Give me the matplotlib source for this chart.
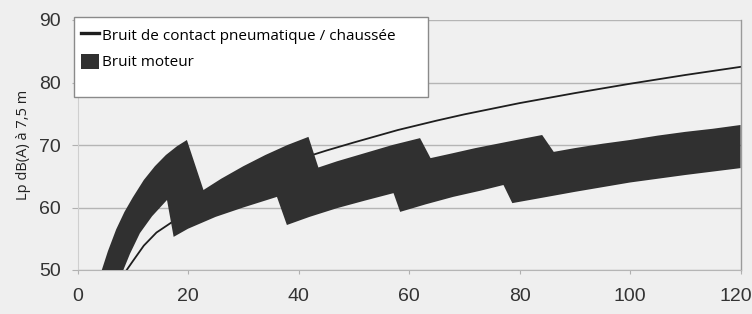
import matplotlib
matplotlib.use("Agg")
import matplotlib.pyplot as plt
from matplotlib.patches import Rectangle, Patch
from matplotlib.lines import Line2D
import matplotlib.transforms as mtrans

# ---------------- data ----------------
x_ticks = [0, 20, 40, 60, 80, 100, 120]
y_ticks = [50, 60, 70, 80, 90]
y_label = "Lp dB(A) à 7,5 m"
legend_labels = ["Bruit de contact pneumatique / chaussée", "Bruit moteur"]

# rolling (tyre/road) noise curve
rolling_speed = [8.9, 10, 12, 14.3, 17, 20, 25, 30, 35, 40, 45, 50, 58, 65, 70,
                 80, 90, 100, 110, 120]
rolling_level = [50, 51.4, 53.9, 56.0, 57.6, 59.4, 62.0, 64.2, 66.1, 67.7, 69.1,
                 70.4, 72.4, 73.9, 74.9, 76.7, 78.3, 79.8, 81.2, 82.5]

# engine noise band: upper outline (left -> right)
engine_upper_speed = [4.4, 5.5, 7, 8.5, 10, 12, 14, 16, 18, 19.8,
                      22.8, 26, 30, 34, 38, 41.8,
                      43.6, 47, 52, 57, 62.0,
                      63.9, 68, 72, 76, 80, 84.1,
                      86.2, 90, 95, 100, 105, 110, 115, 120]
engine_upper_level = [50, 53, 56.5, 59.3, 61.6, 64.4, 66.6, 68.4, 69.8, 70.8,
                      62.8, 64.6, 66.6, 68.4, 70.0, 71.3,
                      66.4, 67.4, 68.7, 70.0, 71.1,
                      67.9, 68.7, 69.5, 70.2, 70.9, 71.6,
                      68.9, 69.5, 70.2, 70.8, 71.5, 72.1, 72.6, 73.2]

# engine noise band: lower outline (left -> right)
engine_lower_speed = [8.3, 9.5, 11.3, 13.5, 16.2,
                      17.4, 20, 25, 30, 36.1,
                      37.9, 42, 47, 52, 57.2,
                      58.4, 63, 68, 73, 77.1,
                      78.7, 85, 90, 100, 110, 120]
engine_lower_level = [50, 52.6, 55.9, 58.6, 61.2,
                      55.3, 56.6, 58.5, 60.0, 61.7,
                      57.2, 58.5, 59.9, 61.1, 62.3,
                      59.3, 60.5, 61.7, 62.7, 63.6,
                      60.7, 61.7, 62.5, 64.0, 65.2, 66.3]

# ---------------- figure ----------------
W, H = 752, 314
fig = plt.figure(figsize=(W / 100, H / 100), dpi=100)
fig.patch.set_facecolor("#efefef")

ax_l, ax_r, ax_t, ax_b = 77.5, 740.5, 20, 270
ax = fig.add_axes([ax_l / W, 1 - ax_b / H, (ax_r - ax_l) / W, (ax_b - ax_t) / H])
ax.set_facecolor("#f0f0f0")
ax.set_xlim(0, 120)
ax.set_ylim(50, 90)

poly_x = engine_upper_speed + engine_lower_speed[::-1]
poly_y = engine_upper_level + engine_lower_level[::-1]
ax.fill(poly_x, poly_y, color="#303030", lw=0, zorder=3)
ax.plot(rolling_speed, rolling_level, color="#1e1e1e", lw=1.3, zorder=2)

ax.set_yticks(y_ticks)
ax.set_xticks(x_ticks)
ax.yaxis.grid(True, color="#b5b5b5", lw=1)
ax.set_axisbelow(True)
ax.spines["top"].set_visible(False)
ax.spines["left"].set_color("#cfcfcf")
ax.spines["bottom"].set_color("#b5b5b5")
ax.spines["right"].set_color("#9a9a9a")
ax.spines["right"].set_linewidth(1)

ax.tick_params(axis="x", length=3, color="#b0b0b0", pad=10, labelsize=14,
               labelcolor="#333333")
ax.tick_params(axis="y", length=4, color="#b0b0b0", pad=8, labelsize=14,
               labelcolor="#333333")
for lab in ax.get_xticklabels() + ax.get_yticklabels():
    lab.set_family("Liberation Sans")
# keep the last x label inside the canvas
last = ax.get_xticklabels()[-1]
last.set_transform(last.get_transform() +
                   mtrans.ScaledTranslation(-5 / 100, 0, fig.dpi_scale_trans))

ax.set_ylabel(y_label, fontsize=10.5, family="Open Sans", color="#222222",
              labelpad=6)

# legend box
fig.add_artist(Rectangle((74 / W, 1 - 97 / H), 354 / W, 80 / H,
                         transform=fig.transFigure, facecolor="white",
                         edgecolor="#8a8a8a", lw=1, zorder=4))
handles = [Line2D([], [], color="#1e1e1e", lw=2.4),
           Patch(facecolor="#303030", edgecolor="none")]
fig.legend(handles, legend_labels, loc="upper left",
           bbox_to_anchor=(81 / W, 1 - 27 / H), frameon=False,
           prop={"family": "Open Sans", "size": 11}, borderpad=0,
           handlelength=1.15, handleheight=1.1, handletextpad=0.2,
           labelspacing=0.68, borderaxespad=0).set_zorder(5)

fig.savefig("out.png", dpi=100, facecolor=fig.get_facecolor())
